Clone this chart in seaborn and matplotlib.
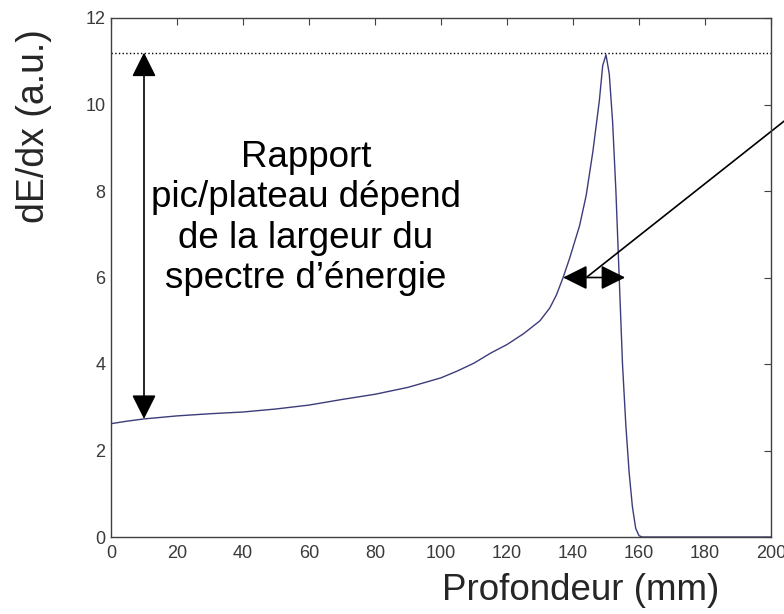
import matplotlib
matplotlib.use("Agg")
import matplotlib.pyplot as plt
import seaborn as sns
import pandas as pd
from matplotlib.lines import Line2D

depth = [0, 5, 10, 20, 30, 40, 50, 60, 70, 80, 90, 100, 105, 110, 115, 120, 125,
         130, 133, 135, 137, 139, 140, 142, 144, 145, 146, 147, 148, 149, 150,
         151, 152, 153, 154, 155, 156, 157, 158, 159, 160, 161, 170, 180, 190, 200]
dedx = [2.62, 2.68, 2.73, 2.80, 2.85, 2.89, 2.96, 3.05, 3.18, 3.30, 3.46, 3.68, 3.84,
        4.02, 4.25, 4.45, 4.70, 5.00, 5.30, 5.60, 6.00, 6.45, 6.70, 7.20, 7.90, 8.40,
        8.90, 9.50, 10.10, 10.90, 11.15, 10.70, 9.60, 8.00, 6.00, 4.00, 2.60, 1.50,
        0.70, 0.20, 0.03, 0.0, 0.0, 0.0, 0.0, 0.0]

peak_level = 11.2
plateau_level = 2.73
arrow_x = 10
width_y = 6.0
width_x0, width_x1 = 137, 155.8
note = "Rapport\npic/plateau dépend\nde la largeur du\nspectre d\u2019énergie"
xlabel = "Profondeur (mm)"
ylabel = "dE/dx (a.u.)"
xticks = list(range(0, 201, 20))
yticks = list(range(0, 13, 2))

sns.set_style("white")
plt.rcParams['font.family'] = ['Liberation Sans', 'DejaVu Sans']

df = pd.DataFrame({"depth": depth, "dedx": dedx})

fig = plt.figure(figsize=(7.84, 6.14), dpi=100)
ax = fig.add_axes([111/784, 1-537/614, (771-111)/784, (537-18)/614])

sns.lineplot(data=df, x="depth", y="dedx", ax=ax, color="#3c3c7a", lw=1.0)

ax.set_xlim(0, 200)
ax.set_ylim(0, 12)
ax.set_xticks(xticks)
ax.set_yticks(yticks)
ax.set_xlabel("")
ax.set_ylabel("")
for s in ax.spines.values():
    s.set_visible(True)
    s.set_color("#404040")
    s.set_linewidth(1.0)
ax.tick_params(direction="in", top=True, right=True, length=5, width=0.8,
               color="#404040", labelcolor="#3a3a3a", labelsize=13, pad=4)
ax.tick_params(axis="x", pad=6)

# dotted peak line
ax.plot([0, 200], [peak_level, peak_level], color="black", ls=":", lw=1.0)

arrow_style = "<|-|>,head_length=0.6,head_width=0.3"
ax.annotate("", xy=(arrow_x, plateau_level), xytext=(arrow_x, peak_level),
            arrowprops=dict(arrowstyle=arrow_style, mutation_scale=25, lw=1.2,
                            color="black", shrinkA=0, shrinkB=0))
ax.annotate("", xy=(width_x0, width_y), xytext=(width_x1, width_y),
            arrowprops=dict(arrowstyle=arrow_style, mutation_scale=25, lw=1.2,
                            color="black", shrinkA=0, shrinkB=0))

ax.add_line(Line2D([144.2, 212], [6.01, 10.1], color="black", lw=1.2, clip_on=False))

ax.text(59, 7.38, note, ha="center", va="center", fontsize=26.5, linespacing=1.2,
        color="black")

fig.text(34/784, 1-126.5/614, ylabel, rotation=90, ha="center", va="center",
         fontsize=27)
fig.text(581/784, 1-590/614, xlabel, ha="center", va="center", fontsize=26.5)

fig.savefig("out.png", dpi=100)
